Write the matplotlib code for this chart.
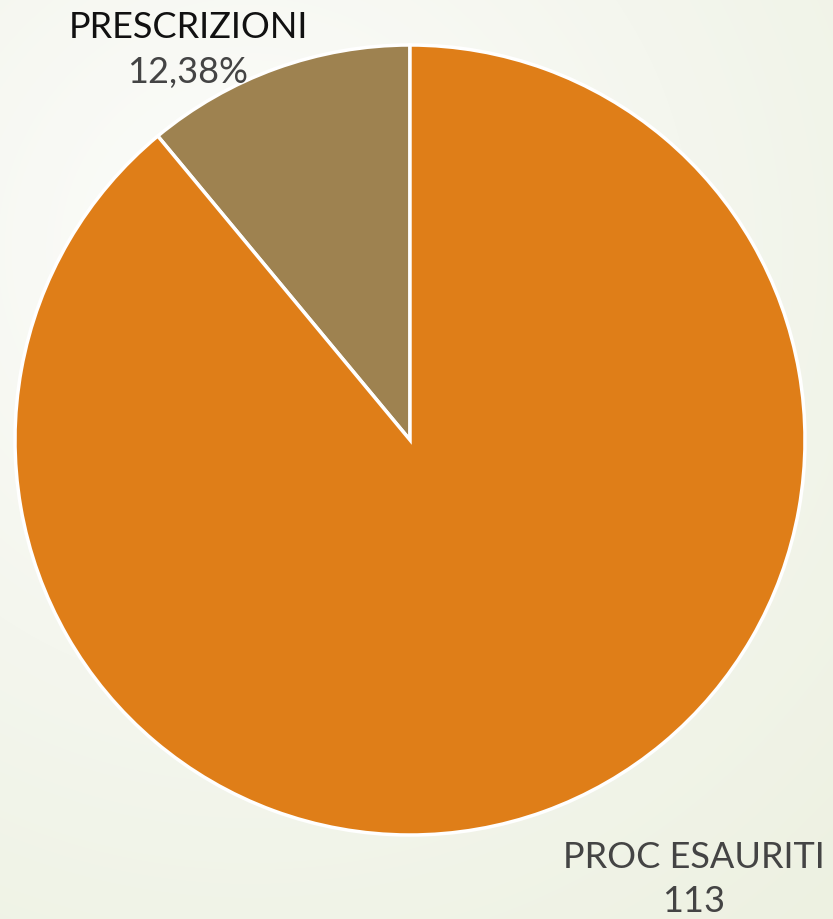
import numpy as np
import matplotlib
matplotlib.use("Agg")
import matplotlib.pyplot as plt
from matplotlib.colors import LinearSegmentedColormap

categories = ["PRESCRIZIONI", "PROC ESAURITI"]
values = [14, 113]
value_labels = ["12,38%", "113"]
colors = ["#9E8250", "#DF7E18"]

W, H = 833, 919
fig = plt.figure(figsize=(W / 100, H / 100), dpi=100)

# soft background gradient
bg = fig.add_axes([0, 0, 1, 1])
yy, xx = np.mgrid[0:H, 0:W]
d = np.sqrt((xx - 250) ** 2 + (yy - 250) ** 2)
d = d / d.max()
cmap = LinearSegmentedColormap.from_list("bg", ["#FDFDFB", "#F4F6EE", "#EDF1E1"])
bg.imshow(d, cmap=cmap, aspect="auto", extent=[0, 1, 0, 1], origin="upper")
bg.axis("off")

# pie axes: centre (410,440) px, radius 395 px
cx, cy, r = 410, 440, 395
ax = fig.add_axes([(cx - r) / W, (H - cy - r) / H, 2 * r / W, 2 * r / H])
ax.pie(values, colors=colors, startangle=90, counterclock=True, radius=1,
       wedgeprops=dict(edgecolor="white", linewidth=2.5))
ax.set_xlim(-1, 1)
ax.set_ylim(-1, 1)
ax.set_aspect("equal")
ax.axis("off")

font = ["Lato", "DejaVu Sans"]
label_pos = [(188, 28, 72), (694, 858, 902)]
name_colors = ["#111111", "#444444"]
for name, val, (px, py1, py2), nc in zip(categories, value_labels, label_pos, name_colors):
    ax.text((px - cx) / r, (cy - py1) / r, name, ha="center", va="center",
            fontsize=26, color=nc, family=font, clip_on=False)
    ax.text((px - cx) / r, (cy - py2) / r, val, ha="center", va="center",
            fontsize=26, color="#444444", family=font, clip_on=False)

fig.savefig("out.png", dpi=100)
